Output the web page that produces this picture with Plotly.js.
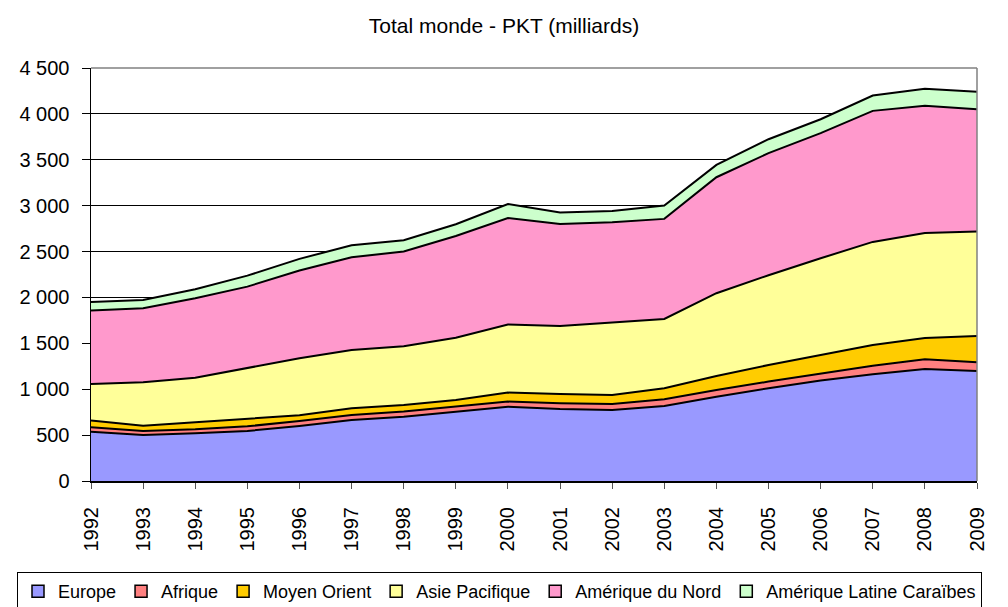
<!DOCTYPE html>
<html>
<head>
<meta charset="utf-8">
<script src="https://cdn.plot.ly/plotly-3.0.1.min.js"></script>
<style>
  html, body { margin: 0; padding: 0; background: #ffffff; }
  #chart { width: 1008px; height: 607px; }
</style>
</head>
<body>
<div id="chart"></div>
<script>
const years = [1992,1993,1994,1995,1996,1997,1998,1999,2000,2001,2002,2003,2004,2005,2006,2007,2008,2009];
const yearLabels = years.map(String);

const europe    = [537,501,520,545,600,665,701,756,810,785,774,818,919,1010,1094,1163,1221,1199];
const afrique   = [48,44,43,51,54,54,55,54,55,62,65,72,73,73,80,94,105,95];
const moyenOrient = [73,58,76,80,62,73,72,73,98,101,98,120,153,181,199,225,233,287];
const asiePacifique = [399,472,487,552,621,636,640,677,742,742,789,756,901,978,1054,1123,1144,1137];
const ameriqueNord = [800,807,865,890,956,1010,1032,1110,1161,1111,1093,1090,1264,1330,1363,1428,1385,1333];
const ameriqueLatine = [94,91,98,120,127,131,123,128,152,124,124,145,134,152,152,167,185,189];

const seriesNames = ["Europe","Afrique","Moyen Orient","Asie Pacifique","Amérique du Nord","Amérique Latine Caraïbes"];
const seriesValues = [europe, afrique, moyenOrient, asiePacifique, ameriqueNord, ameriqueLatine];
const seriesColors = ["#9999FF","#FF8080","#FFCC00","#FFFF99","#FF99CC","#CCFFCC"];

const yTickVals = [0,500,1000,1500,2000,2500,3000,3500,4000,4500];
const yTickText = ["0","500","1 000","1 500","2 000","2 500","3 000","3 500","4 000","4 500"];

const FONT = "Liberation Sans, Arial, Helvetica, sans-serif";

// stacked areas (legend hidden; square legend keys provided below)
const areaTraces = seriesNames.map((name, i) => ({
  type: "scatter",
  mode: "lines",
  name: name,
  legendgroup: name,
  showlegend: false,
  x: years,
  y: seriesValues[i],
  stackgroup: "one",
  fillcolor: seriesColors[i],
  line: { color: "#000000", width: 2 },
  hoverinfo: "skip"
}));

// legend keys: square swatches with black outline, like the original
const legendKeys = seriesNames.map((name, i) => ({
  type: "bar",
  name: name,
  legendgroup: name,
  showlegend: true,
  x: [null],
  y: [null],
  marker: { color: seriesColors[i], line: { color: "#000000", width: 1.5 } },
  hoverinfo: "skip"
}));

const layout = {
  width: 1008,
  height: 607,
  paper_bgcolor: "#ffffff",
  plot_bgcolor: "#ffffff",
  margin: { l: 91, r: 31, t: 68, b: 126, autoexpand: false },
  font: { family: FONT, color: "#000000", size: 18 },
  title: {
    text: "Total monde - PKT (milliards)",
    font: { family: FONT, size: 21, color: "#000000" },
    xref: "container", x: 0.5, xanchor: "center",
    yref: "container", y: 1 - 26/607, yanchor: "middle"
  },
  showlegend: true,
  legend: {
    orientation: "h",
    traceorder: "normal",
    xref: "paper", x: (17 - 91) / 886, xanchor: "left",
    yref: "paper", y: (481 - 572) / 413, yanchor: "top",
    bordercolor: "#000000",
    borderwidth: 1,
    bgcolor: "#ffffff",
    font: { family: FONT, size: 18, color: "#000000" },
    itemwidth: 30
  },
  xaxis: {
    range: [1992, 2009],
    tickmode: "array",
    tickvals: years,
    ticktext: yearLabels,
    tickangle: -90,
    ticks: "outside",
    ticklen: 6,
    tickcolor: "#555555",
    tickwidth: 1,
    ticklabelstandoff: 10,
    showline: true,
    linecolor: "#000000",
    linewidth: 2,
    showgrid: false,
    zeroline: false,
    tickfont: { family: FONT, size: 20, color: "#000000" },
    fixedrange: true
  },
  yaxis: {
    range: [0, 4500],
    tickmode: "array",
    tickvals: yTickVals,
    ticktext: yTickText,
    ticks: "outside",
    ticklen: 8,
    tickcolor: "#000000",
    tickwidth: 1,
    ticklabelstandoff: 8,
    showline: true,
    linecolor: "#000000",
    linewidth: 1.5,
    showgrid: true,
    gridcolor: "#000000",
    gridwidth: 1,
    zeroline: false,
    tickfont: { family: FONT, size: 20, color: "#000000" },
    fixedrange: true
  },
  shapes: [
    { type: "line", xref: "paper", yref: "paper", x0: 0, x1: 1, y0: 1, y1: 1,
      line: { color: "#808080", width: 1.5 }, layer: "above" },
    { type: "line", xref: "paper", yref: "paper", x0: 1, x1: 1, y0: 0, y1: 1,
      line: { color: "#808080", width: 1.5 }, layer: "above" }
  ],
  hovermode: false
};

Plotly.newPlot("chart", areaTraces.concat(legendKeys), layout, { displayModeBar: false, staticPlot: true });
</script>
</body>
</html>
